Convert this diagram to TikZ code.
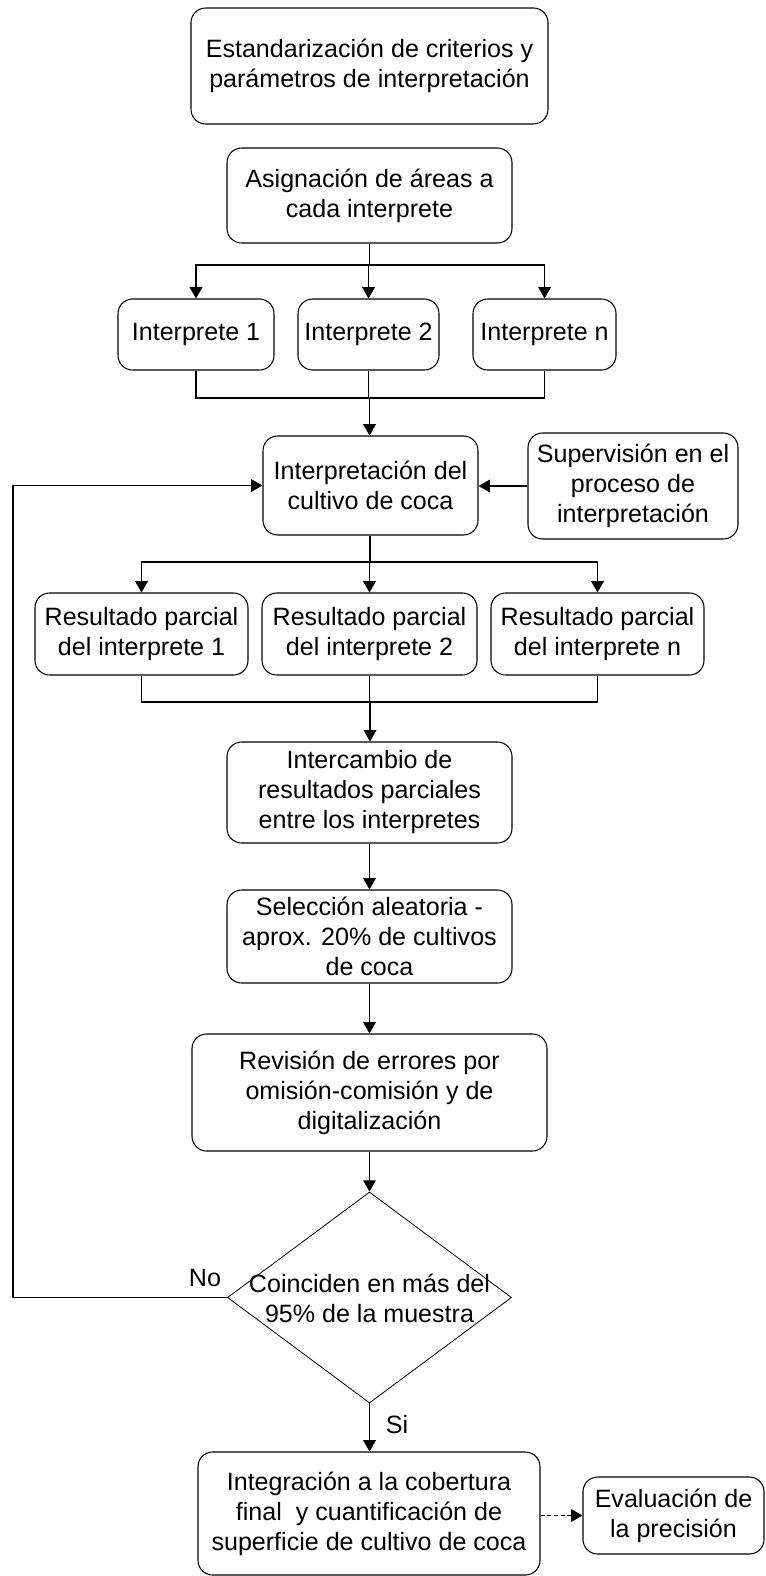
\documentclass[tikz,border=0pt]{standalone}
\usepackage{fontspec}
\setmainfont{Liberation Sans}
\usetikzlibrary{shapes.geometric,arrows.meta}

\begin{document}
\begin{tikzpicture}[x=0.75pt,y=-0.75pt,line width=0.8pt,
  caja/.style={draw, rounded corners=11pt, align=center, inner sep=0pt,
    font=\fontsize{18.8}{22.5}\selectfont},
  rombo/.style={draw, diamond, inner sep=0pt, line width=0.6pt},
  texto/.style={align=center, inner sep=0pt, font=\fontsize{18.8}{22.5}\selectfont},
  flecha/.style={-{Triangle[length=8.5pt,width=9.5pt]}}]

\useasboundingbox (0,0) rectangle (766,1576);

%% cajas
\node[caja, minimum width=267.75pt, minimum height=87pt] (est) at (369.5,66) {Estandarización de criterios y\\parámetros de interpretación};
\node[caja, minimum width=213.75pt, minimum height=71.25pt] (asig) at (369.5,195.5) {Asignación de áreas a\\cada interprete};
\node[caja, minimum width=117pt, minimum height=53.25pt] (i1) at (196,334.5) {Interprete 1};
\node[caja, minimum width=105.75pt, minimum height=53.25pt] (i2) at (368.5,334.5) {Interprete 2};
\node[caja, minimum width=107.25pt, minimum height=53.25pt] (in) at (544.5,334.5) {Interprete n};
\node[caja, minimum width=161.25pt, minimum height=74.25pt] (interp) at (370.5,485.5) {Interpretación del\\cultivo de coca};
\node[caja, minimum width=157.5pt, minimum height=79.5pt] (sup) at (633,486) {Supervisión en el\\proceso de\\interpretación};
\node[caja, minimum width=159.75pt, minimum height=61.5pt] (r1) at (141.5,634) {Resultado parcial\\del interprete 1};
\node[caja, minimum width=161.25pt, minimum height=61.5pt] (r2) at (369.5,634) {Resultado parcial\\del interprete 2};
\node[caja, minimum width=159.75pt, minimum height=61.5pt] (r3) at (597.5,634) {Resultado parcial\\del interprete n};
\node[caja, minimum width=213.75pt, minimum height=75.75pt] (inter) at (369.5,792.5) {Intercambio de\\resultados parciales\\entre los interpretes};
\node[caja, minimum width=213.75pt, minimum height=69.75pt] (sel) at (369.5,936.5) {Selección aleatoria -\\aprox. 20\% de cultivos\\de coca};
\node[caja, minimum width=266.25pt, minimum height=87.75pt] (rev) at (369.5,1092.5) {Revisión de errores por\\omisión-comisión y de\\digitalización};
\node[rombo, minimum width=213pt, minimum height=158.25pt] (dec) at (369.5,1297.5) {};
\node[texto] (dectxt) at (369.5,1298) {Coinciden en más del\\95\% de la muestra};
\node[caja, minimum width=256.5pt, minimum height=92.25pt] (integ) at (369,1513.5) {Integración a la cobertura\\final\ \ y cuantificación de\\superficie de cultivo de coca};
\node[caja, minimum width=135.75pt, minimum height=57.75pt] (eval) at (673.5,1515.5) {Evaluación de\\la precisión};

%% etiquetas
\node[texto] (no) at (205,1278) {No};
\node[texto] (si) at (397,1425) {Si};

%% puntos de union
\coordinate (s1) at (369.5,265);
\coordinate (m1) at (369.5,398);
\coordinate (s2) at (370,562);
\coordinate (m2) at (370,702);
\coordinate (fb) at (13,1297.5);

%% conectores
\draw (asig.south) -- (s1);
\draw[flecha] (s1) -| (i1.north);
\draw[flecha] (s1) -| (i2.north);
\draw[flecha] (s1) -| (in.north);
\draw (i1.south) |- (m1);
\draw (in.south) |- (m1);
\draw (i2.south) |- (m1);
\draw[flecha] (m1) -- (interp.north -| m1);
\draw[flecha] (sup.west) -- (interp.east |- sup.west);
\draw (interp.south -| s2) -- (s2);
\draw[flecha] (s2) -| (r1.north);
\draw[flecha] (s2) -| (r2.north);
\draw[flecha] (s2) -| (r3.north);
\draw (r1.south) |- (m2);
\draw (r3.south) |- (m2);
\draw (r2.south) |- (m2);
\draw[flecha] (m2) -- (inter.north -| m2);
\draw[flecha] (inter) -- (sel);
\draw[flecha] (sel) -- (rev);
\draw[flecha] (rev) -- (dec.north);
\draw[flecha] (dec.south) -- (integ.north -| dec.south);
\draw[flecha] (dec.west) -- (fb) |- (interp.west);
\draw[flecha, dash pattern=on 3pt off 2pt, line width=0.6pt] (integ.east |- eval.west) -- (eval.west);
\end{tikzpicture}
\end{document}
